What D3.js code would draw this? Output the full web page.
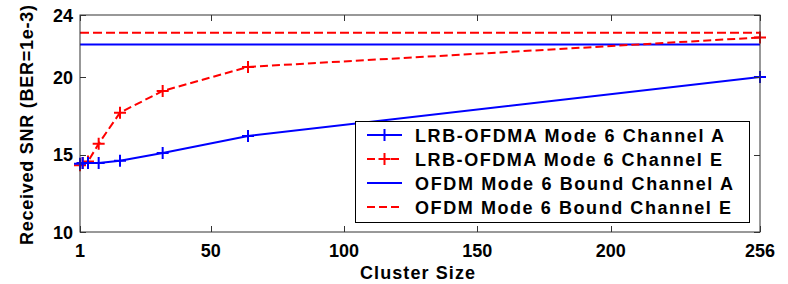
<!DOCTYPE html>
<html><head><meta charset="utf-8">
<script src="https://cdn.jsdelivr.net/npm/d3@7"></script>
<style>body{margin:0;background:#fff}svg{display:block}text{font-family:"Liberation Sans",Arial,sans-serif;font-weight:bold;fill:#000}</style>
</head><body><svg id="c" width="788" height="284"></svg>
<script>
const clusterSizes = [1, 2, 4, 8, 16, 32, 64, 256];
const lrbChannelA = [14.4, 14.45, 14.45, 14.45, 14.6, 15.1, 16.2, 20.0];
const lrbChannelE = [14.3, 14.45, 14.55, 15.7, 17.7, 19.1, 20.65, 22.55];
const boundChannelA = 22.1;
const boundChannelE = 22.85;
const xTicks = [1, 50, 100, 150, 200, 256];
const yTicks = [10, 15, 20, 24];
const legendLabels = ["LRB-OFDMA Mode 6 Channel A","LRB-OFDMA Mode 6 Channel E","OFDM Mode 6 Bound Channel A","OFDM Mode 6 Bound Channel E"];

const svg = d3.select("#c");
const L=80,R=760,T=15,B=232;
const x = d3.scaleLinear().domain([1,256]).range([L,R]);
const y = d3.scaleLinear().domain([10,24]).range([B,T]);
const axisColor="#333";

const line = d3.line().x((d,i)=>x(clusterSizes[i])).y(d=>y(d));
const g = svg.append("g");
g.append("line").attr("x1",x(1)).attr("x2",x(256)).attr("y1",y(boundChannelE)).attr("y2",y(boundChannelE))
 .attr("stroke","#f00").attr("stroke-width",2).attr("stroke-dasharray","9,4");
g.append("line").attr("x1",x(1)).attr("x2",x(256)).attr("y1",y(boundChannelA)).attr("y2",y(boundChannelA))
 .attr("stroke","#00f").attr("stroke-width",2);
g.append("path").attr("d",line(lrbChannelE)).attr("fill","none").attr("stroke","#f00").attr("stroke-width",2).attr("stroke-dasharray","8,4");
g.append("path").attr("d",line(lrbChannelA)).attr("fill","none").attr("stroke","#00f").attr("stroke-width",2);

function plus(sel, cx, cy, col){
  const s=6;
  sel.append("path").attr("d",`M${cx-s},${cy}H${cx+s}M${cx},${cy-s}V${cy+s}`).attr("stroke",col).attr("stroke-width",2).attr("fill","none");
}
lrbChannelE.forEach((v,i)=>plus(g,x(clusterSizes[i]),y(v),"#f00"));
lrbChannelA.forEach((v,i)=>plus(g,x(clusterSizes[i]),y(v),"#00f"));

svg.append("rect").attr("x",L).attr("y",T).attr("width",R-L).attr("height",B-T).attr("fill","none").attr("stroke",axisColor).attr("stroke-width",1);
const ax = svg.append("g");
const tl=6;
xTicks.forEach(t=>{
  const px=Math.round(x(t))+0.5;
  ax.append("line").attr("x1",px).attr("x2",px).attr("y1",B).attr("y2",B-tl).attr("stroke",axisColor);
  ax.append("line").attr("x1",px).attr("x2",px).attr("y1",T).attr("y2",T+tl).attr("stroke",axisColor);
  ax.append("text").attr("x",x(t)).attr("y",257).attr("text-anchor","middle").attr("font-size",18).text(t);
});
yTicks.forEach(t=>{
  const py=Math.round(y(t))+0.5;
  ax.append("line").attr("x1",L).attr("x2",L+tl).attr("y1",py).attr("y2",py).attr("stroke",axisColor);
  ax.append("line").attr("x1",R).attr("x2",R-tl).attr("y1",py).attr("y2",py).attr("stroke",axisColor);
  ax.append("text").attr("x",73).attr("y",y(t)+6.5).attr("text-anchor","end").attr("font-size",18).text(t);
});
svg.append("text").attr("x",360).attr("y",279).attr("font-size",18).attr("textLength",115).attr("lengthAdjust","spacing").text("Cluster Size");
svg.append("text").attr("transform","translate(33,245) rotate(-90)").attr("font-size",18).attr("textLength",240).attr("lengthAdjust","spacing").text("Received SNR (BER=1e-3)");

const lg = svg.append("g");
lg.append("rect").attr("x",355.5).attr("y",121.5).attr("width",394).attr("height",101).attr("fill","#fff").attr("stroke","#000").attr("stroke-width",1);
const styles=[{c:"#00f",d:null,m:true,w:309},{c:"#f00",d:"8,4",m:true,w:307},{c:"#00f",d:null,m:false,w:318},{c:"#f00",d:"8,4",m:false,w:316}];
legendLabels.forEach((lab,i)=>{
  const cy=135+i*24;
  const ln=lg.append("line").attr("x1",367).attr("x2",402).attr("y1",cy).attr("y2",cy).attr("stroke",styles[i].c).attr("stroke-width",2);
  if(styles[i].d) ln.attr("stroke-dasharray",styles[i].d);
  if(styles[i].m) plus(lg,384.5,cy,styles[i].c);
  lg.append("text").attr("x",415).attr("y",cy+6.5).attr("font-size",18).attr("textLength",styles[i].w).attr("lengthAdjust","spacing").text(lab);
});
</script></body></html>
